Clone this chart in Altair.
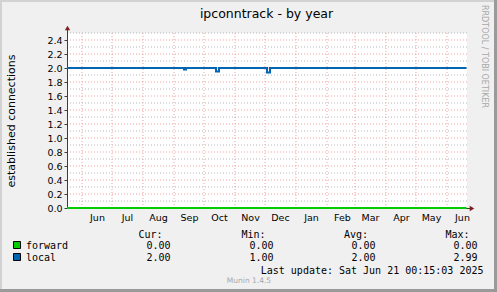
import altair as alt
import pandas as pd

# ---- data ----
start_time = "2024-05-17T00:15:03Z"
end_time = "2025-06-21T00:15:03Z"

local_dates = ["2024-05-17T00:15:03Z", "2024-09-11T00:00:00Z", "2024-09-13T00:00:00Z",
               "2024-10-13T00:00:00Z", "2024-10-16T00:00:00Z", "2024-12-03T00:00:00Z",
               "2024-12-06T00:00:00Z", "2025-06-20T12:00:00Z"]
local_values = [2.0, 1.98, 2.0, 1.95, 2.0, 1.935, 2.0, 2.0]

forward_dates = ["2024-05-17T00:15:03Z", "2025-06-20T12:00:00Z"]
forward_values = [0.0, 0.0]

month_starts = ["2024-06-01", "2024-07-01", "2024-08-01", "2024-09-01", "2024-10-01",
                "2024-11-01", "2024-12-01", "2025-01-01", "2025-02-01", "2025-03-01",
                "2025-04-01", "2025-05-01", "2025-06-01"]
month_label_dates = ["2024-06-16", "2024-07-16", "2024-08-16", "2024-09-16", "2024-10-16",
                     "2024-11-16", "2024-12-16", "2025-01-16", "2025-02-16", "2025-03-16",
                     "2025-04-16", "2025-05-16", "2025-06-16"]

y_labels = [0.0, 0.2, 0.4, 0.6, 0.8, 1.0, 1.2, 1.4, 1.6, 1.8, 2.0, 2.2, 2.4]
y_minor = [0.1, 0.3, 0.5, 0.7, 0.9, 1.1, 1.3, 1.5, 1.7, 1.9, 2.1, 2.3, 2.5]

series_names = ["forward", "local"]
series_colors = ["#00CC00", "#0066B3"]
stat_headers = ["Cur:", "Min:", "Avg:", "Max:"]
stat_cur = ["0.00", "2.00"]
stat_min = ["0.00", "1.00"]
stat_avg = ["0.00", "2.00"]
stat_max = ["0.00", "2.99"]

title_text = "ipconntrack - by year"
y_title = "established connections"
last_update = "Last update: Sat Jun 21 00:15:03 2025"
munin_text = "Munin 1.4.5"
rrd_text = "RRDTOOL / TOBI OETIKER"

# ---- layout constants ----
W, H = 400, 175
SANS = "DejaVu Sans"
MONO = "DejaVu Sans Mono"

xscale = alt.Scale(type="utc", domain=[start_time, end_time])
yscale = alt.Scale(domain=[0, 2.5], nice=False, zero=False)

def to_utc(lst):
    return [d + "T00:00:00Z" for d in lst]

local_df = pd.DataFrame({"t": local_dates, "v": local_values})
forward_df = pd.DataFrame({"t": forward_dates, "v": forward_values})
mstart_df = pd.DataFrame({"t": to_utc(month_starts)})
minor_df = pd.DataFrame({"v": y_minor})
major_df = pd.DataFrame({"v": [v for v in y_labels if v > 0]})

label_vals = [alt.DateTime(year=int(d[:4]), month=int(d[5:7]), date=int(d[8:10]), utc=True)
              for d in month_label_dates]

def x_axis():
    return alt.Axis(values=label_vals, labelExpr="utcFormat(datum.value, '%b')", ticks=False,
                    domain=False, grid=False, labelOverlap=False, labelFlush=False,
                    labelFont=SANS, labelFontSize=9.5, labelColor="#000000",
                    labelPadding=4, title=None)

def y_axis():
    return alt.Axis(values=y_labels, format=".1f", tickSize=3, tickColor="#3c3c3c",
                    domain=False, grid=False, labelFont=SANS, labelFontSize=9.5,
                    labelColor="#000000", labelPadding=2, title=y_title,
                    titleFont=SANS, titleFontSize=11, titleFontWeight="normal",
                    titleColor="#000000", titlePadding=30)

minor_grid = alt.Chart(minor_df).mark_rule(color="#b8b8b8", strokeWidth=1, strokeDash=[1, 2]).encode(
    y=alt.Y("v:Q", scale=yscale, axis=y_axis())
)
major_grid = alt.Chart(major_df).mark_rule(color="#f2a0a0", strokeWidth=1, strokeDash=[1, 2]).encode(
    y=alt.Y("v:Q", scale=yscale, axis=y_axis())
)
vert_grid = alt.Chart(mstart_df).mark_rule(color="#f2a0a0", strokeWidth=1, strokeDash=[1, 2]).encode(
    x=alt.X("t:T", scale=xscale, axis=x_axis())
)

axis_color = "#3c3c3c"
y_axis_line = alt.Chart(pd.DataFrame({"a": [0]})).mark_rule(color=axis_color, strokeWidth=1).encode(
    x=alt.value(0.5), y=alt.value(-4), y2=alt.value(H)
)
x_axis_line = alt.Chart(pd.DataFrame({"a": [0]})).mark_rule(color=axis_color, strokeWidth=1).encode(
    x=alt.value(0), x2=alt.value(W + 3), y=alt.value(H + 0.5)
)

forward_line = alt.Chart(forward_df).mark_line(color=series_colors[0], strokeWidth=2,
                                               interpolate="step-after").encode(
    x=alt.X("t:T", scale=xscale, axis=x_axis()),
    y=alt.Y("v:Q", scale=yscale, axis=y_axis()),
)

local_line = alt.Chart(local_df).mark_line(color=series_colors[1], strokeWidth=2,
                                           interpolate="step-after").encode(
    x=alt.X("t:T", scale=xscale, axis=x_axis()),
    y=alt.Y("v:Q", scale=yscale, axis=y_axis()),
)

arrow_df = pd.DataFrame({"a": [0]})
y_arrow = alt.Chart(arrow_df).mark_point(shape="triangle-up", filled=True, color="#7f1f1f",
                                         size=28, opacity=1).encode(
    x=alt.value(0.5), y=alt.value(-5)
)
x_arrow = alt.Chart(arrow_df).mark_point(shape="triangle-right", filled=True, color="#7f1f1f",
                                         size=28, opacity=1).encode(
    x=alt.value(W + 5), y=alt.value(H + 0.5)
)

layers = [minor_grid, major_grid, vert_grid, y_axis_line, x_axis_line,
          forward_line, local_line, y_arrow, x_arrow]

def txt(s, x, y, font=SANS, size=10, color="#000000", align="left", angle=0, baseline="alphabetic"):
    return alt.Chart(pd.DataFrame({"s": [s]})).mark_text(
        font=font, fontSize=size, color=color, align=align, baseline=baseline, angle=angle
    ).encode(x=alt.value(x), y=alt.value(y), text="s:N")

# title & side texts
layers.append(txt(title_text, 199.5, -15, size=12.5, align="center"))
layers.append(txt(rrd_text, 417, -28, size=8, color="#a8a8a8", angle=90, baseline="middle"))
layers.append(txt(munin_text, 182, 250, size=7.5, color="#a8a8a8", align="center"))
layers.append(txt(last_update, 416.5, 240.5, font=MONO, size=10, align="right"))

# legend headers
header_x = [95.5, 198.5, 301, 402.5]
value_x = [103.5, 206.5, 308.5, 410.5]
for h, hx in zip(stat_headers, header_x):
    layers.append(txt(h, hx, 205, font=MONO, size=10, align="right"))

row_y = [216, 228]
stats = [stat_cur, stat_min, stat_avg, stat_max]
for i, name in enumerate(series_names):
    layers.append(txt(name, -41, row_y[i], font=MONO, size=10))
    sq = alt.Chart(pd.DataFrame({"a": [0]})).mark_rect(
        color=series_colors[i], stroke="#000000", strokeWidth=1
    ).encode(x=alt.value(-53.5), x2=alt.value(-46.5), y=alt.value(row_y[i] - 7.5),
             y2=alt.value(row_y[i] - 0.5))
    layers.append(sq)
    for col, vx in zip(stats, value_x):
        layers.append(txt(col[i], vx, row_y[i], font=MONO, size=10, align="right"))

# frame borders
border = pd.DataFrame({"a": [0]})
layers.append(alt.Chart(border).mark_rule(color="#9a9a9a", strokeWidth=3).encode(
    x=alt.value(428.5), y=alt.value(-33), y2=alt.value(259)))
layers.append(alt.Chart(border).mark_rule(color="#9a9a9a", strokeWidth=3).encode(
    x=alt.value(-67), x2=alt.value(430), y=alt.value(257.5)))
layers.append(alt.Chart(border).mark_rule(color="#d2d2d2", strokeWidth=2).encode(
    x=alt.value(-67), x2=alt.value(427), y=alt.value(-32)))
layers.append(alt.Chart(border).mark_rule(color="#d2d2d2", strokeWidth=2).encode(
    x=alt.value(-66), y=alt.value(-33), y2=alt.value(256)))

chart = alt.layer(*layers).properties(
    width=W, height=H,
    autosize=alt.AutoSizeParams(type="none"),
    padding={"left": 67, "top": 33, "right": 30, "bottom": 84},
    background="#F0F0F0",
).configure_view(stroke=None, fill="#FFFFFF").configure_axis(grid=False)

chart.save("out.html", embed_options={"renderer": "svg", "actions": False})
